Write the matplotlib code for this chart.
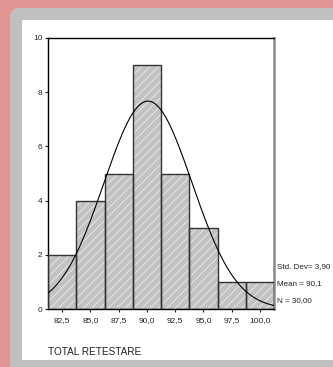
import numpy as np
import matplotlib.pyplot as plt
from matplotlib.patches import Rectangle, FancyBboxPatch

# histogram data (bins of width 2.5)
bin_centers = [82.5, 85.0, 87.5, 90.0, 92.5, 95.0, 97.5, 100.0]
counts = [2, 4, 5, 9, 5, 3, 1, 1]
tick_labels = ["82,5", "85,0", "87,5", "90,0", "92,5", "95,0", "97,5", "100,0"]
y_ticks = [0, 2, 4, 6, 8, 10]
mean_val = 90.1
std_val = 3.90
n_val = 30
bin_width = 2.5

plt.rcParams['font.family'] = ['Liberation Sans', 'DejaVu Sans']
plt.rcParams['hatch.linewidth'] = 0.6

W, H = 333, 367
fig = plt.figure(figsize=(W / 100, H / 100), dpi=100)
fig.patch.set_facecolor('#e29494')

def px_rect(x0, y0, x1, y1, **kw):
    # rectangle given in pixel coords (origin top-left)
    return Rectangle((x0 / W, 1 - y1 / H), (x1 - x0) / W, (y1 - y0) / H,
                     transform=fig.transFigure, **kw)

# grey frame with rounded corner, then white panel
fig.patches.append(FancyBboxPatch((10 / W, -0.2), 1.2, 1.2 - 8 / H,
                                  boxstyle="round,pad=0,rounding_size=0.025",
                                  transform=fig.transFigure, facecolor='#c0c0c0',
                                  edgecolor='none', zorder=0))
fig.patches.append(px_rect(22, 20, 333, 360, facecolor='white', edgecolor='none', zorder=1))

ax = fig.add_axes([48 / W, 1 - 309 / H, (274 - 48) / W, (309 - 38) / H])
ax.set_zorder(5)
ax.set_facecolor('white')

# bars: grey fill with light hatching, then dark outline
ax.bar(bin_centers, counts, width=bin_width, color='#c2c2c2', edgecolor='#ececec',
       hatch='////', linewidth=0, zorder=2)
ax.bar(bin_centers, counts, width=bin_width, fill=False, edgecolor='#333333',
       linewidth=1.0, zorder=3)

# fitted normal curve
xs = np.linspace(81.25, 101.25, 300)
ys = n_val * bin_width / (std_val * np.sqrt(2 * np.pi)) * np.exp(-0.5 * ((xs - mean_val) / std_val) ** 2)
ax.plot(xs, ys, color='black', linewidth=0.8, zorder=4)

ax.set_xlim(81.25, 101.25)
ax.set_ylim(0, 10)
ax.set_xticks(bin_centers)
ax.set_xticklabels(tick_labels)
ax.set_yticks(y_ticks)
ax.tick_params(axis='both', labelsize=6, length=2, width=0.8, pad=2, colors='#222222')
ax.tick_params(axis='x', pad=4)
for side in ['left', 'bottom', 'top']:
    ax.spines[side].set_color('black')
    ax.spines[side].set_linewidth(1.0)
ax.spines['right'].set_color('#888888')
ax.spines['right'].set_linewidth(1.8)

# statistics text
stats = ["Std. Dev= 3,90", "Mean = 90,1", "N = 30,00"]
for txt, yy in zip(stats, [267, 284, 301]):
    fig.text(277 / W, 1 - yy / H, txt, fontsize=5.8, va='center', ha='left',
             color='#222222', zorder=6)

fig.text(48 / W, 1 - 352 / H, "TOTAL RETESTARE", fontsize=7.2, va='center', ha='left',
         color='#222222', zorder=6)

fig.savefig('out.png', dpi=100, facecolor=fig.get_facecolor())
